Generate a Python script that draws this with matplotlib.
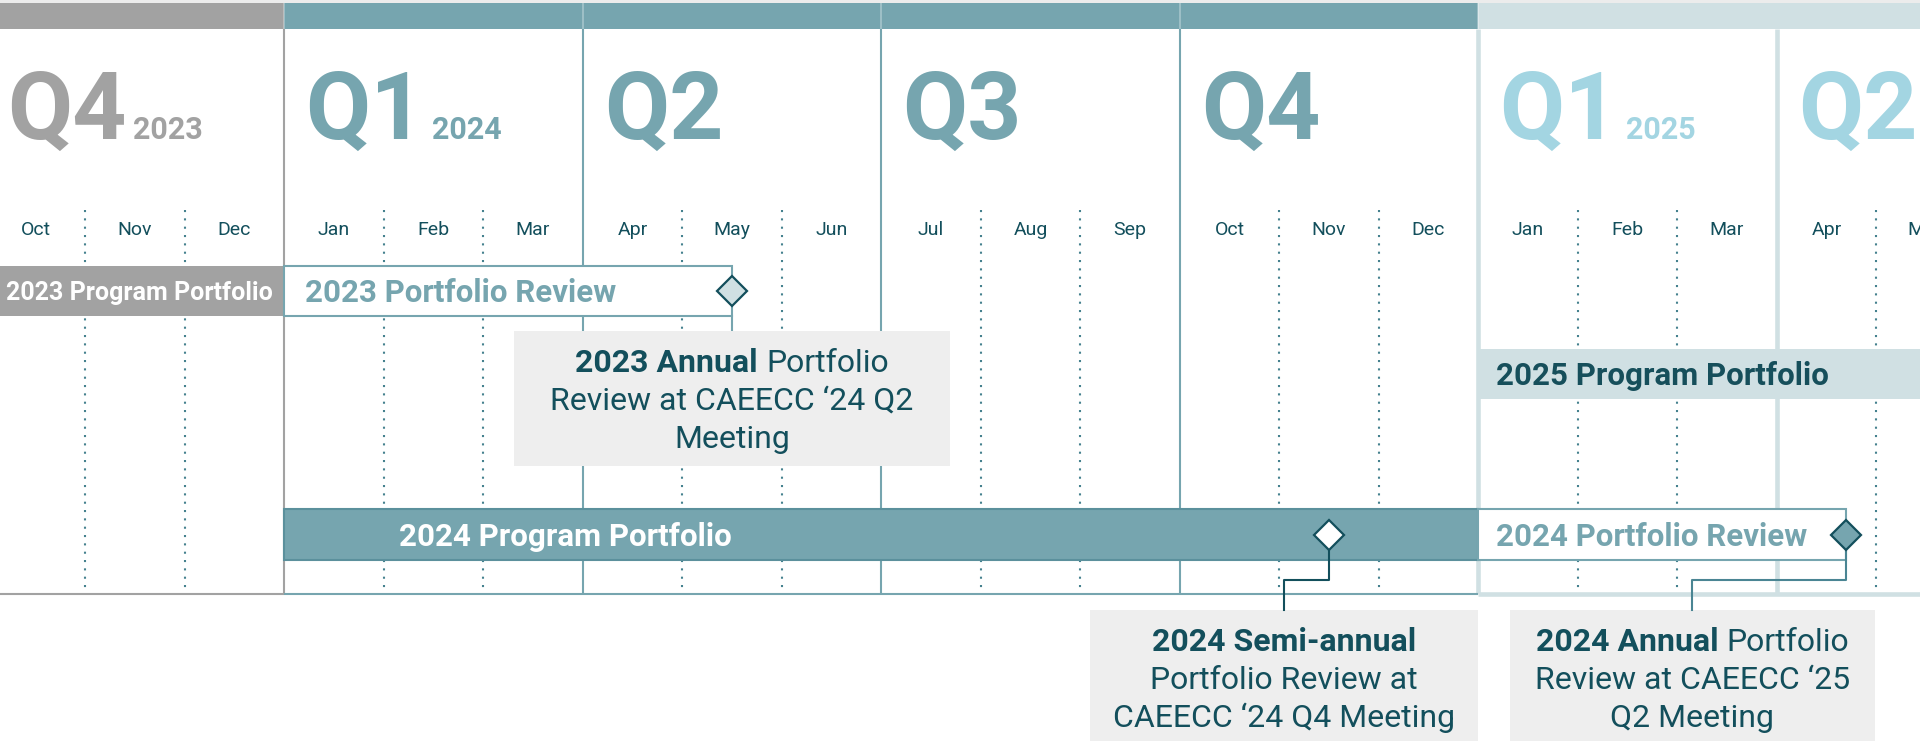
import matplotlib.pyplot as plt
from matplotlib.patches import Rectangle
from matplotlib import transforms

plt.rcParams['font.family'] = ['Roboto', 'DejaVu Sans']

# month index 0 = Oct 2023
month_labels = ["Oct", "Nov", "Dec", "Jan", "Feb", "Mar", "Apr", "May", "Jun",
                "Jul", "Aug", "Sep", "Oct", "Nov", "Dec", "Jan", "Feb", "Mar",
                "Apr", "May"]
quarter_names = ["Q4", "Q1", "Q2", "Q3", "Q4", "Q1", "Q2"]
quarter_years = ["2023", "2024", "", "", "", "2025", ""]
quarter_start = [0, 3, 6, 9, 12, 15, 18]

bar_labels = ["2023 Program Portfolio", "2023 Portfolio Review",
              "2025 Program Portfolio", "2024 Program Portfolio",
              "2024 Portfolio Review"]
bar_start = [0, 3, 15, 3, 15]
bar_end = [3, 7.5, 20, 15, 18.7]

milestone_month = [7.5, 13.5, 18.7]
callout_month = [7.5, 13.05, 17.15]
callout_text = [
    [("2023 Annual", "Portfolio"), ("", "Review at CAEECC \u201824 Q2"), ("", "Meeting")],
    [("2024 Semi-annual", ""), ("", "Portfolio Review at"), ("", "CAEECC \u201824 Q4 Meeting")],
    [("2024 Annual", "Portfolio"), ("", "Review at CAEECC \u201825"), ("", "Q2 Meeting")],
]

# colours
GREY = '#a2a2a2'
TEAL = '#76a5af'
LIGHT = '#d0e0e3'
SKY = '#a3d5e2'
DARK = '#134f5c'
MID = '#45818e'
BOXGREY = '#eeeeee'

W, H = 1920, 741
PX = 99.5  # pixels per month
fig = plt.figure(figsize=(W / 100, H / 100), dpi=100)
ax = fig.add_axes([0, 0, 1, 1])
ax.set_xlim(14.2 / PX, (W + 14.2) / PX)
ax.set_ylim(H, 0)
ax.axis('off')


def px(p):
    return p / PX


def cap_base(yc, size):
    # baseline that centres the capitals on yc
    return yc + 0.711 * size * 100 / 72 / 2


# top band + quarter lines
quarter_color = [GREY, TEAL, TEAL, TEAL, TEAL, LIGHT, LIGHT]
quarter_text_color = [GREY, TEAL, TEAL, TEAL, TEAL, SKY, SKY]
line_color = [GREY, GREY, TEAL, TEAL, TEAL, LIGHT, LIGHT]
line_width = [1.5, 1.5, 1.5, 1.5, 1.5, 3.3, 3.3]
ax.axhspan(0, 3, color='#ececec', lw=0, zorder=0)
for i, qs in enumerate(quarter_start):
    ax.add_patch(Rectangle((qs, 3), 3, 26, fc=quarter_color[i], lw=0, zorder=1))
    ax.vlines(qs, 29, 594, color=line_color[i], lw=line_width[i], zorder=2)
    if 0 < i < 6:
        ax.vlines(qs, 3, 29, color='white', alpha=0.35, lw=1.2, zorder=2)
    qt = ax.text(qs + px(21), 139, quarter_names[i], fontsize=68, fontweight='bold',
                 color=quarter_text_color[i], ha='left', va='baseline', zorder=6)
    if quarter_years[i]:
        ax.annotate(quarter_years[i], xy=(1, 139), xycoords=(qt, 'data'),
                    xytext=(7, 0), textcoords='offset pixels', fontsize=22,
                    fontweight='bold', color=quarter_text_color[i],
                    ha='left', va='baseline', zorder=6)

# baseline
ax.hlines(594, -1, 3, color=GREY, lw=1.5, zorder=2)
ax.hlines(594, 3, 15, color=TEAL, lw=1.5, zorder=2)
ax.hlines(594, 15, 21, color=LIGHT, lw=3.3, zorder=2)

# months
for m, lab in enumerate(month_labels):
    ax.text(m + 0.5, 235, lab, fontsize=14, color=DARK, ha='center',
            va='baseline', zorder=6)
    if m % 3 != 0:
        ax.vlines(m, 210, 594, color=MID, lw=1.5, linestyles=(0, (1, 3)), zorder=1)

# bars
rows = [(266, 316), (349, 399), (509, 560)]
bar_row = [0, 0, 1, 2, 2]
bar_fill = [GREY, 'white', LIGHT, TEAL, 'white']
bar_edge = ['none', TEAL, 'none', '#5b909c', TEAL]
bar_text_color = ['white', TEAL, '#164f5b', 'white', TEAL]
bar_text_size = [18, 22.5, 22.5, 22.5, 22.5]
bar_text_offset = [20, 21, 18, 115, 18]
for i, lab in enumerate(bar_labels):
    y0, y1 = rows[bar_row[i]]
    ax.add_patch(Rectangle((bar_start[i], y0), bar_end[i] - bar_start[i], y1 - y0,
                           fc=bar_fill[i], ec=bar_edge[i], lw=1.5, zorder=3))
    ax.text(bar_start[i] + px(bar_text_offset[i]), cap_base((y0 + y1) / 2, bar_text_size[i]),
            lab, fontsize=bar_text_size[i], fontweight='bold', color=bar_text_color[i],
            ha='left', va='baseline', zorder=6)

# callout boxes
box_width = [4.38, 3.9, 3.67]
box_top = [331, 610, 610]
box_bottom = [466, 760, 760]
for i, c in enumerate(callout_month):
    ax.add_patch(Rectangle((c - box_width[i] / 2, box_top[i]), box_width[i],
                           box_bottom[i] - box_top[i], fc=BOXGREY, lw=0, zorder=3))

# connectors
ax.plot([7.5, 7.5], [316, 331], color=TEAL, lw=1.5, zorder=2.5)
ax.plot([13.5, 13.5, 13.05, 13.05], [534, 580, 580, 610], color=DARK, lw=1.5, zorder=4)
ax.plot([18.7, 18.7, 17.15, 17.15], [534, 580, 580, 610], color='#4a8593', lw=1.5, zorder=4)

# milestones
ms_row = [0, 2, 2]
ms_fill = [LIGHT, 'white', TEAL]
for i, m in enumerate(milestone_month):
    y0, y1 = rows[ms_row[i]]
    ax.plot(m, (y0 + y1) / 2, 'D', ms=15.5, mfc=ms_fill[i], mec=DARK, mew=1.6, zorder=5)

# callout text (bold lead + regular tail, centred per line)
renderer = fig.canvas.get_renderer()
SIZE = 23
for i, c in enumerate(callout_month):
    for j, (bold, reg) in enumerate(callout_text[i]):
        y = box_top[i] + 41 + 38 * j
        parts = []
        if bold:
            parts.append(ax.text(c, y, bold, fontsize=SIZE, fontweight='bold', color=DARK,
                                 ha='left', va='baseline', zorder=6))
        if reg:
            if parts:
                parts.append(ax.annotate(reg, xy=(1, y), xycoords=(parts[0], 'data'),
                                         xytext=(8, 0), textcoords='offset pixels',
                                         fontsize=SIZE, color=DARK, ha='left',
                                         va='baseline', zorder=6))
            else:
                parts.append(ax.text(c, y, reg, fontsize=SIZE, color=DARK,
                                     ha='left', va='baseline', zorder=6))
        width = sum(p.get_window_extent(renderer).width for p in parts)
        if len(parts) > 1:
            width += 8
        parts[0].set_transform(transforms.offset_copy(ax.transData, fig, x=-width / 2,
                                                      y=0, units='dots'))

fig.savefig('out.png', dpi=100)
